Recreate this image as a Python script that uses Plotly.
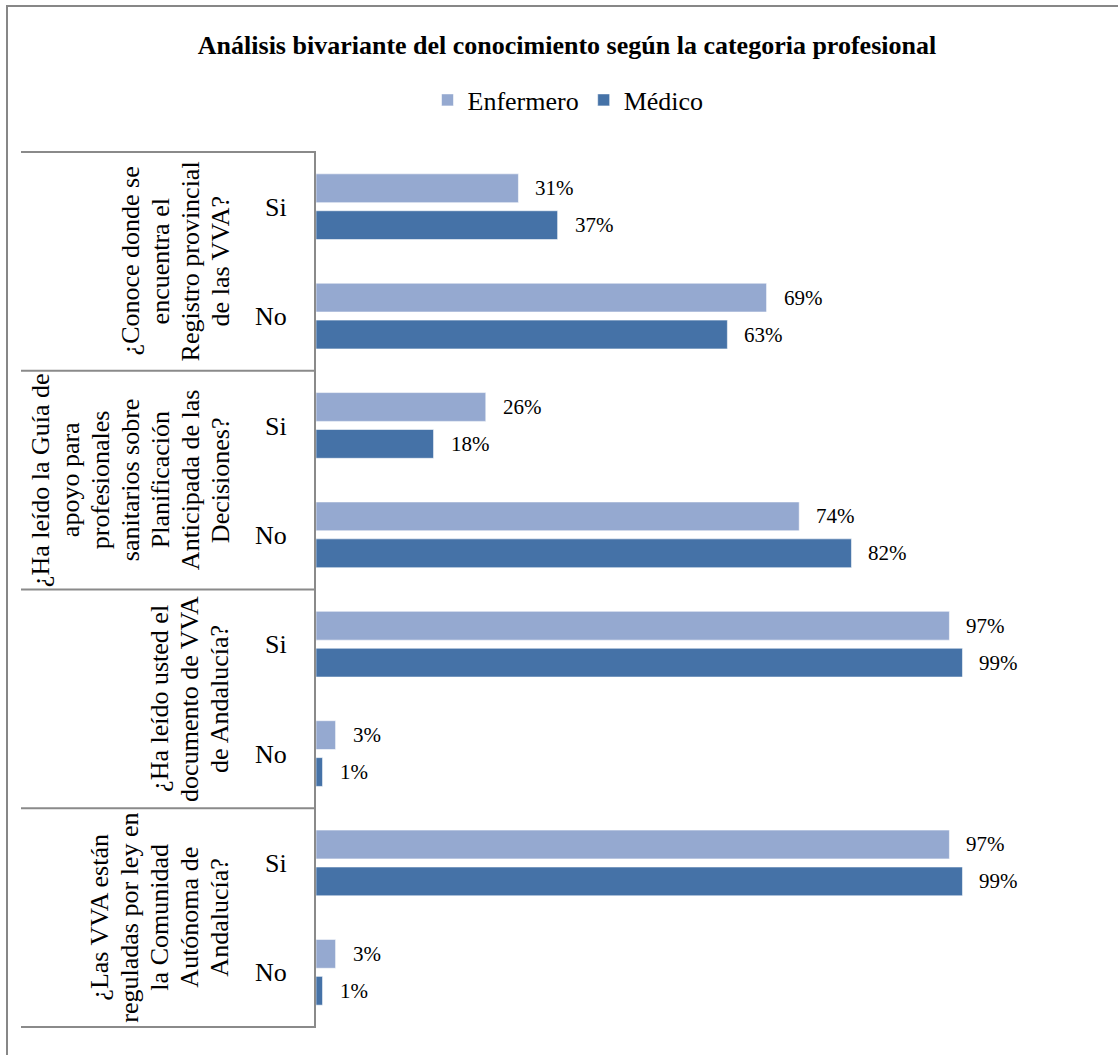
import plotly.graph_objects as go

# Survey data: share of each professional category answering Si / No
questions = [
    ["¿Conoce donde se", "encuentra el", "Registro provincial", "de las VVA?"],
    ["¿Ha leído la Guía de", "apoyo para", "profesionales", "sanitarios sobre",
     "Planificación", "Anticipada de las", "Decisiones?"],
    ["¿Ha leído usted el", "documento de VVA", "de Andalucía?"],
    ["¿Las VVA están", "reguladas por ley en", "la Comunidad", "Autónoma de",
     "Andalucía?"],
]
answers = ["Si", "No"]
enfermero = [31, 69, 26, 74, 97, 3, 97, 3]
medico = [37, 63, 18, 82, 99, 1, 99, 1]

series_names = ["Enfermero", "Médico"]
colors = ["#95A9D0", "#4572A7"]

FONT = "Liberation Serif, Times New Roman, serif"
W, H = 1118, 1055
L, R, T, B = 316, 149, 151, 27
plot_w = W - L - R
plot_h = H - T - B

# one unique category per (question, answer) row
cat_ids = [f"q{qi}_{a}" for qi in range(len(questions)) for a in answers]
cat_text = [a for _ in questions for a in answers]

fig = go.Figure()
for name, vals, col in zip(series_names, [enfermero, medico], colors):
    fig.add_trace(go.Bar(
        name=name,
        y=cat_ids,
        x=[v / 100 for v in vals],
        orientation="h",
        marker=dict(color=col, line=dict(color="rgba(255,255,255,0.55)", width=1)),
        hoverinfo="skip",
    ))

annotations = []
# value labels next to each bar
for vals, shift in zip([enfermero, medico], [18.5, -18.5]):
    for cid, v in zip(cat_ids, vals):
        annotations.append(dict(
            x=v / 100, y=cid, xref="x", yref="y",
            text=f"{v}%", showarrow=False,
            xanchor="left", yanchor="middle", xshift=15, yshift=shift,
            font=dict(family=FONT, size=21, color="#000000"),
        ))

# rotated question labels, one annotation per wrapped line
for qi, lines in enumerate(questions):
    n = len(lines)
    for li, line in enumerate(lines):
        cx = 220 - (n - 1 - li) * 30
        annotations.append(dict(
            x=0, y=qi * 2 + 0.5, xref="paper", yref="y",
            xshift=cx - L, text=line, textangle=-90, showarrow=False,
            xanchor="center", yanchor="middle",
            font=dict(family=FONT, size=26, color="#000000"),
        ))

shapes = []
# horizontal separators between question groups
for b in [-0.5, 1.5, 3.5, 5.5, 7.5]:
    shapes.append(dict(
        type="line", xref="paper", yref="y",
        x0=(21 - L) / plot_w, x1=0, y0=b, y1=b,
        line=dict(color="#8A8A8A", width=2),
    ))
# outer chart frame
shapes.append(dict(
    type="rect", xref="paper", yref="paper",
    x0=(7 - L) / plot_w, x1=(W + 20 - L) / plot_w,
    y0=-(B + 20) / plot_h, y1=(H - B - 6) / plot_h,
    line=dict(color="#878787", width=2), layer="below",
))

fig.update_layout(
    width=W, height=H,
    margin=dict(l=L, r=R, t=T, b=B, pad=0),
    paper_bgcolor="white", plot_bgcolor="white",
    font=dict(family=FONT, color="#000000"),
    barmode="group", bargap=0.325, bargroupgap=0.22,
    title=dict(
        text="<b>Análisis bivariante del conocimiento según la categoria profesional</b>",
        font=dict(family=FONT, size=26, color="#000000"),
        x=567 / W, xref="container", xanchor="center",
        y=1 - 45 / H, yref="container", yanchor="middle",
    ),
    legend=dict(
        orientation="h", x=(568 - L) / plot_w, xanchor="center",
        y=(H - B - 100) / plot_h, yanchor="middle",
        font=dict(family=FONT, size=26, color="#000000"),
        traceorder="normal",
    ),
    xaxis=dict(
        range=[0, 1], showgrid=False, zeroline=False, showline=False,
        showticklabels=False, ticks="",
    ),
    yaxis=dict(
        type="category", categoryorder="array", categoryarray=cat_ids,
        autorange="reversed",
        tickmode="array", tickvals=cat_ids, ticktext=cat_text,
        tickfont=dict(family=FONT, size=26, color="#000000"),
        ticks="", ticklabelstandoff=22,
        showline=True, linecolor="#8A8A8A", linewidth=2,
        showgrid=False, zeroline=False,
    ),
    annotations=annotations,
    shapes=shapes,
    showlegend=True,
)

fig.write_html("out.html")
